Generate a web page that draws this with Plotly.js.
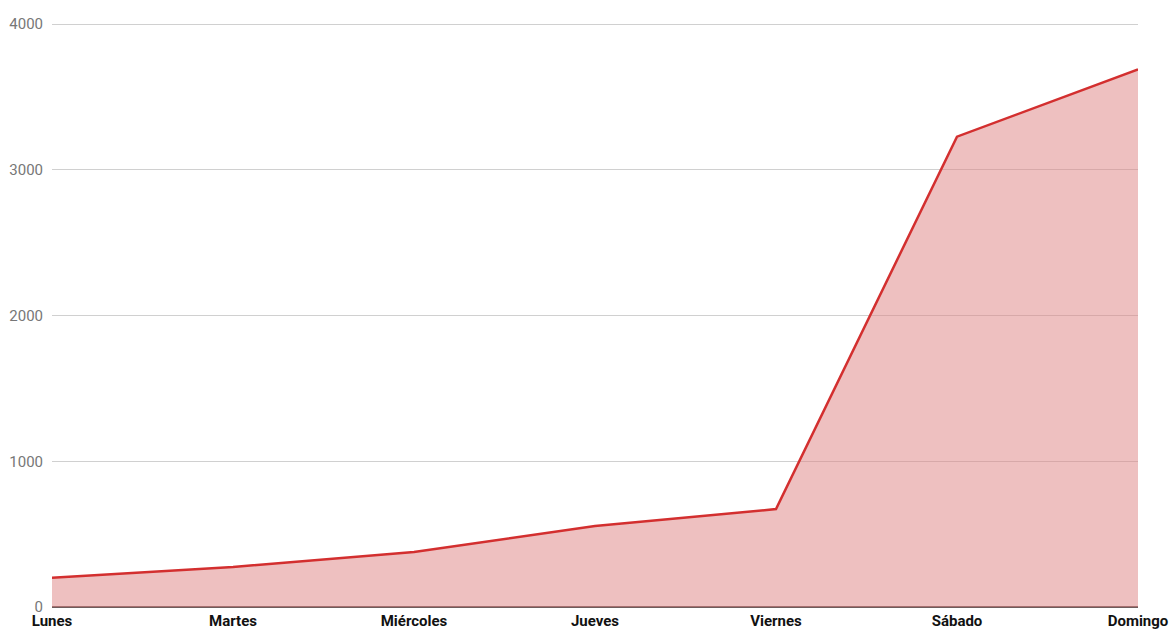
<!DOCTYPE html>
<html>
<head>
<meta charset="utf-8">
<script src="https://cdn.plot.ly/plotly-3.0.1.min.js"></script>
<style>html,body{margin:0;padding:0;background:#fff;}#chart{width:1174px;height:632px;}</style>
</head>
<body>
<div id="chart"></div>
<script>
const days = ["Lunes", "Martes", "Miércoles", "Jueves", "Viernes", "Sábado", "Domingo"];
const values = [200, 275, 378, 556, 672, 3228, 3690];
const yTicks = [0, 1000, 2000, 3000, 4000];

const trace = {
  x: days,
  y: values,
  type: "scatter",
  mode: "lines",
  fill: "tozeroy",
  fillcolor: "rgba(221,130,130,0.5)",
  line: {color: "#d32f2f", width: 2.5},
  hoverinfo: "x+y"
};

const layout = {
  width: 1174,
  height: 632,
  margin: {l: 52, r: 36, t: 22, b: 25},
  paper_bgcolor: "#fff",
  plot_bgcolor: "#fff",
  showlegend: false,
  font: {family: "Roboto, sans-serif"},
  xaxis: {
    type: "category",
    range: [0, 6],
    showgrid: false,
    zeroline: false,
    showline: false,
    ticks: "",
    tickfont: {family: "Roboto, sans-serif", size: 15, color: "#111", weight: "bold"},
    ticklabelstandoff: 3
  },
  yaxis: {
    range: [0, 4015],
    tickvals: yTicks,
    ticktext: yTicks.map(String),
    showgrid: true,
    gridcolor: "#d0d0d0",
    gridwidth: 1,
    zeroline: true,
    zerolinecolor: "#6e5c5c",
    zerolinewidth: 2,
    showline: false,
    ticks: "",
    tickfont: {family: "Roboto, sans-serif", size: 15, color: "#777"},
    ticklabelstandoff: 8
  }
};

Plotly.newPlot("chart", [trace], layout, {displayModeBar: false, staticPlot: true});
</script>
</body>
</html>
